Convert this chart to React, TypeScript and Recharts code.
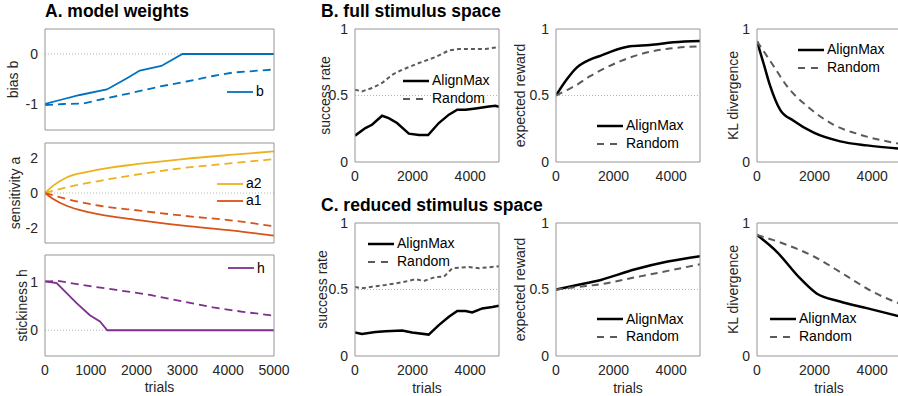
import React from "react";
import { LineChart, Line, XAxis, YAxis, ReferenceLine, Legend } from "recharts";

// ---- A. model weights ----
const trialsA = [0, 1000, 2000, 3000, 4000, 5000];

const biasFitT = [0, 330, 760, 1350, 1780, 2070, 2540, 3000, 5000];
const biasFit = [-1, -0.92, -0.82, -0.71, -0.49, -0.33, -0.24, 0, 0];
const biasRndT = [0, 400, 840, 1270, 1930, 2510, 3090, 3670, 4110, 5000];
const biasRnd = [-1.02, -1.0, -0.99, -0.9, -0.77, -0.65, -0.55, -0.44, -0.37, -0.31];

const sensFitT = [0, 180, 470, 980, 2000, 3020, 4110, 5000];
const a2Fit = [0, 0.42, 0.89, 1.24, 1.65, 1.94, 2.19, 2.38];
const a1Fit = [0, -0.34, -0.73, -1.11, -1.54, -1.87, -2.15, -2.44];
const sensRndT = [0, 470, 1200, 2070, 3020, 4110, 5000];
const a2Rnd = [0, 0.32, 0.7, 1.08, 1.43, 1.71, 1.94];
const a1Rnd = [0, -0.34, -0.73, -1.01, -1.3, -1.58, -1.91];

const hFitT = [0, 255, 690, 980, 1200, 1360, 5000];
const hFit = [1.01, 0.97, 0.56, 0.31, 0.18, 0, 0];
const hRndT = [0, 255, 910, 1560, 2290, 3020, 3670, 4320, 5000];
const hRnd = [1.0, 1.02, 0.92, 0.83, 0.73, 0.59, 0.47, 0.38, 0.3];

// ---- B. full stimulus space ----
const trialsBC = [0, 2000, 4000];

const succBT = [0, 360, 590, 940, 1170, 1460, 1870, 2220, 2540, 2910, 3260, 3550, 3840, 4190, 4650, 4880, 5000];
const succBAlign = [0.198, 0.255, 0.28, 0.348, 0.33, 0.293, 0.213, 0.203, 0.203, 0.293, 0.356, 0.393, 0.393, 0.403, 0.418, 0.423, 0.414];
const succBRndT = [0, 240, 590, 940, 1290, 1640, 2220, 2790, 3260, 3610, 4070, 4530, 5000];
const succBRnd = [0.544, 0.531, 0.556, 0.594, 0.656, 0.694, 0.744, 0.789, 0.839, 0.85, 0.85, 0.85, 0.865];

const rewBT = [0, 370, 720, 1180, 1560, 1910, 2570, 3260, 4070, 5000];
const rewBAlign = [0.5, 0.62, 0.71, 0.77, 0.8, 0.83, 0.87, 0.88, 0.9, 0.91];
const rewBRndT = [0, 370, 720, 1180, 1560, 2260, 2920, 3840, 5000];
const rewBRnd = [0.5, 0.54, 0.58, 0.645, 0.69, 0.76, 0.81, 0.85, 0.87];

const klBT = [0, 230, 460, 810, 1270, 1970, 2890, 3820, 5000];
const klBAlign = [0.907, 0.74, 0.57, 0.39, 0.31, 0.22, 0.155, 0.125, 0.1];
const klBRndT = [0, 580, 1040, 1740, 2660, 3590, 5000];
const klBRnd = [0.907, 0.72, 0.57, 0.42, 0.28, 0.205, 0.135];

// ---- C. reduced stimulus space ----
const succCT = [0, 240, 710, 1060, 1640, 1980, 2560, 2910, 3260, 3550, 3840, 4070, 4420, 4770, 5000];
const succCAlign = [0.177, 0.166, 0.181, 0.187, 0.192, 0.177, 0.161, 0.232, 0.295, 0.338, 0.338, 0.327, 0.358, 0.368, 0.378];
const succCRndT = [0, 240, 590, 1060, 1640, 2100, 2390, 2790, 3090, 3380, 3950, 4300, 5000];
const succCRnd = [0.519, 0.509, 0.521, 0.534, 0.554, 0.577, 0.564, 0.594, 0.597, 0.66, 0.67, 0.66, 0.675];

const rewCT = [0, 780, 1560, 2720, 3880, 5000];
const rewCAlign = [0.5, 0.535, 0.572, 0.65, 0.71, 0.75];
const rewCRnd = [0.5, 0.52, 0.54, 0.59, 0.64, 0.69];

const klCT = [0, 680, 1490, 2070, 2880, 3810, 5000];
const klCAlign = [0.91, 0.785, 0.585, 0.47, 0.41, 0.36, 0.295];
const klCRndT = [0, 1030, 1960, 3120, 4040, 5000];
const klCRnd = [0.91, 0.836, 0.75, 0.6, 0.48, 0.39];

const AX = "#959595";
const TXT = "#262626";
const RND = "#5a5a5a";
const FONT = '"Liberation Sans", Arial, Helvetica, sans-serif';

type Series = {
  name: string;
  t: number[];
  v: number[];
  color: string;
  dashed?: boolean;
  width?: number;
  curve?: "linear" | "monotone";
  legend?: boolean;
};

type PanelProps = {
  x: number;
  y: number;
  w: number;
  h: number;
  yDomain: [number, number];
  yTicks: number[];
  xTicks: number[];
  xLabels?: boolean;
  trials?: boolean;
  trialsOffset?: number;
  yLabel: string;
  yLabelOffset: number;
  refY?: number;
  series: Series[];
  legendX: number;
  legendY: number;
  dash?: string;
  legendDash?: string;
};

const pts = (t: number[], v: number[]) => t.map((x, i) => ({ t: x, v: v[i] }));

function LegendBox({ items, dash }: { items: Series[]; dash: string }) {
  return (
    <div style={{ fontFamily: FONT, fontSize: 14, color: "#000" }}>
      {items.map((s) => (
        <div key={s.name} style={{ display: "flex", alignItems: "center", height: 17.5 }}>
          <svg width={26} height={4} style={{ display: "block" }}>
            <line
              x1={0}
              x2={26}
              y1={2}
              y2={2}
              stroke={s.color}
              strokeWidth={s.width ?? 2}
              strokeDasharray={s.dashed ? dash : undefined}
            />
          </svg>
          <span style={{ marginLeft: 3, lineHeight: "17.5px" }}>{s.name}</span>
        </div>
      ))}
    </div>
  );
}

function Panel(p: PanelProps) {
  const left = p.x - 50;
  const top = p.y - 10;
  const dash = p.dash ?? "7 5";
  const legendItems = p.series.filter((s) => s.legend !== false);
  return (
    <div style={{ position: "absolute", left, top }}>
      <LineChart
        width={p.w + 80}
        height={p.h + 50}
        margin={{ top: 10, right: 30, left: 0, bottom: 0 }}
      >
        <XAxis
          xAxisId="main"
          type="number"
          dataKey="t"
          domain={[0, 5000]}
          ticks={p.xTicks}
          allowDataOverflow
          height={40}
          tickLine={false}
          tickSize={6}
          tickMargin={3}
          axisLine={{ stroke: AX }}
          tick={p.xLabels ? { fill: TXT, fontSize: 14 } : false}
          label={
            p.trials
              ? {
                  value: "trials",
                  position: "insideBottom",
                  offset: p.trialsOffset ?? 3,
                  style: { fill: TXT, fontSize: 14 },
                }
              : undefined
          }
        />
        <XAxis
          xAxisId="bm"
          type="number"
          domain={[0, 5000]}
          ticks={p.xTicks}
          allowDataOverflow
          mirror
          height={1}
          tick={false}
          axisLine={false}
          tickSize={3}
          tickLine={{ stroke: AX }}
        />
        <XAxis
          xAxisId="tm"
          orientation="top"
          type="number"
          domain={[0, 5000]}
          ticks={p.xTicks}
          allowDataOverflow
          mirror
          height={1}
          tick={false}
          axisLine={{ stroke: AX }}
          tickSize={3}
          tickLine={{ stroke: AX }}
        />
        <YAxis
          yAxisId="main"
          type="number"
          domain={p.yDomain}
          ticks={p.yTicks}
          allowDataOverflow
          width={50}
          tickLine={false}
          tickSize={6}
          tickMargin={1}
          axisLine={{ stroke: AX }}
          tick={{ fill: TXT, fontSize: 14 }}
          label={{
            value: p.yLabel,
            angle: -90,
            position: "insideLeft",
            offset: p.yLabelOffset,
            style: { textAnchor: "middle", fill: TXT, fontSize: 14 },
          }}
        />
        <YAxis
          yAxisId="lm"
          type="number"
          domain={p.yDomain}
          ticks={p.yTicks}
          allowDataOverflow
          mirror
          width={1}
          tick={false}
          axisLine={false}
          tickSize={3}
          tickLine={{ stroke: AX }}
        />
        <YAxis
          yAxisId="rm"
          orientation="right"
          type="number"
          domain={p.yDomain}
          ticks={p.yTicks}
          allowDataOverflow
          mirror
          width={1}
          tick={false}
          axisLine={{ stroke: AX }}
          tickSize={3}
          tickLine={{ stroke: AX }}
        />
        {p.refY !== undefined && (
          <ReferenceLine
            xAxisId="main"
            yAxisId="main"
            y={p.refY}
            stroke="#b5b5b5"
            strokeDasharray="1 2"
            strokeWidth={1}
          />
        )}
        {p.series.map((s) => (
          <Line
            key={s.name + (s.dashed ? "-d" : "-s")}
            xAxisId="main"
            yAxisId="main"
            data={pts(s.t, s.v)}
            dataKey="v"
            name={s.name}
            type={s.curve ?? "monotone"}
            stroke={s.color}
            strokeWidth={s.width ?? 2}
            strokeDasharray={s.dashed ? dash : undefined}
            dot={false}
            activeDot={false}
            legendType={s.legend === false ? "none" : "line"}
            isAnimationActive={false}
          />
        ))}
        <Legend
          layout="vertical"
          align="center"
          verticalAlign="middle"
          wrapperStyle={{
            left: p.legendX - left,
            top: p.legendY - 8.75 - top,
            width: "auto",
            height: "auto",
          }}
          content={() => <LegendBox items={legendItems} dash={p.legendDash ?? "7 6"} />}
        />
      </LineChart>
    </div>
  );
}

const BLUE = "#0072BD";
const YEL = "#EDB120";
const ORG = "#D95319";
const PUR = "#7E2F8E";

const titleStyle: React.CSSProperties = {
  position: "absolute",
  fontFamily: FONT,
  fontWeight: "bold",
  fontSize: 17.5,
  color: "#000",
  lineHeight: "14px",
  whiteSpace: "nowrap",
};

export default function App() {
  const cx = [355, 556, 757];
  const bY = 29;
  const cY = 223;
  const boxW = 144;
  const boxH = 133;
  return (
    <div
      style={{
        position: "absolute",
        left: 0,
        top: 0,
        width: 898,
        height: 396,
        overflow: "hidden",
        background: "#fff",
        fontFamily: FONT,
      }}
    >
      <div style={{ ...titleStyle, left: 45, top: 4 }}>A. model weights</div>
      <div style={{ ...titleStyle, left: 321, top: 4 }}>B. full stimulus space</div>
      <div style={{ ...titleStyle, left: 321, top: 198 }}>C. reduced stimulus space</div>

      {/* A */}
      <Panel
        x={45} y={29} w={229} h={101}
        yDomain={[-1.52, 0.5]} yTicks={[-1, 0]} xTicks={trialsA}
        yLabel="bias b" yLabelOffset={18} refY={0}
        legendX={227} legendY={92} dash="8 5"
        series={[
          { name: "b", t: biasFitT, v: biasFit, color: BLUE, curve: "linear", width: 1.8 },
          { name: "b", t: biasRndT, v: biasRnd, color: BLUE, dashed: true, curve: "linear", width: 1.8, legend: false },
        ]}
      />
      <Panel
        x={45} y={143} w={229} h={100}
        yDomain={[-2.86, 2.86]} yTicks={[-2, 0, 2]} xTicks={trialsA}
        yLabel="sensitivity a" yLabelOffset={20} refY={0}
        legendX={217} legendY={183.5} dash="8 5"
        series={[
          { name: "a2", t: sensFitT, v: a2Fit, color: YEL, width: 1.8 },
          { name: "a1", t: sensFitT, v: a1Fit, color: ORG, width: 1.8 },
          { name: "a2", t: sensRndT, v: a2Rnd, color: YEL, dashed: true, width: 1.8, legend: false },
          { name: "a1", t: sensRndT, v: a1Rnd, color: ORG, dashed: true, width: 1.8, legend: false },
        ]}
      />
      <Panel
        x={45} y={255} w={229} h={101}
        yDomain={[-0.53, 1.55]} yTicks={[0, 1]} xTicks={trialsA}
        xLabels trials trialsOffset={4}
        yLabel="stickiness h" yLabelOffset={27} refY={0}
        legendX={228} legendY={268.3} dash="8 5"
        series={[
          { name: "h", t: hFitT, v: hFit, color: PUR, curve: "linear", width: 1.8 },
          { name: "h", t: hRndT, v: hRnd, color: PUR, dashed: true, curve: "linear", width: 1.8, legend: false },
        ]}
      />

      {/* B */}
      <Panel
        x={cx[0]} y={bY} w={boxW} h={boxH}
        yDomain={[0, 1]} yTicks={[0, 0.5, 1]} xTicks={trialsBC} xLabels
        yLabel="success rate" yLabelOffset={20} refY={0.5}
        legendX={403} legendY={81} dash="4 3"
        series={[
          { name: "AlignMax", t: succBT, v: succBAlign, color: "#000", curve: "linear", width: 2.5 },
          { name: "Random", t: succBRndT, v: succBRnd, color: RND, dashed: true, curve: "linear", width: 2 },
        ]}
      />
      <Panel
        x={cx[1]} y={bY} w={boxW} h={boxH}
        yDomain={[0, 1]} yTicks={[0, 0.5, 1]} xTicks={trialsBC} xLabels
        yLabel="expected reward" yLabelOffset={14} refY={0.5}
        legendX={597} legendY={126}
        series={[
          { name: "AlignMax", t: rewBT, v: rewBAlign, color: "#000", width: 2.5 },
          { name: "Random", t: rewBRndT, v: rewBRnd, color: RND, dashed: true, width: 2 },
        ]}
      />
      <Panel
        x={cx[2]} y={bY} w={boxW} h={boxH}
        yDomain={[0, 1]} yTicks={[0, 1]} xTicks={trialsBC} xLabels
        yLabel="KL divergence" yLabelOffset={26}
        legendX={798} legendY={50}
        series={[
          { name: "AlignMax", t: klBT, v: klBAlign, color: "#000", width: 2.5 },
          { name: "Random", t: klBRndT, v: klBRnd, color: RND, dashed: true, width: 2 },
        ]}
      />

      {/* C */}
      <Panel
        x={cx[0]} y={cY} w={boxW} h={boxH}
        yDomain={[0, 1]} yTicks={[0, 0.5, 1]} xTicks={trialsBC} xLabels trials
        yLabel="success rate" yLabelOffset={17} refY={0.5}
        legendX={368} legendY={244} dash="4 3"
        series={[
          { name: "AlignMax", t: succCT, v: succCAlign, color: "#000", curve: "linear", width: 2.5 },
          { name: "Random", t: succCRndT, v: succCRnd, color: RND, dashed: true, curve: "linear", width: 2 },
        ]}
      />
      <Panel
        x={cx[1]} y={cY} w={boxW} h={boxH}
        yDomain={[0, 1]} yTicks={[0, 0.5, 1]} xTicks={trialsBC} xLabels trials
        yLabel="expected reward" yLabelOffset={14} refY={0.5}
        legendX={597} legendY={319.3}
        series={[
          { name: "AlignMax", t: rewCT, v: rewCAlign, color: "#000", width: 2.5 },
          { name: "Random", t: rewCT, v: rewCRnd, color: RND, dashed: true, width: 2 },
        ]}
      />
      <Panel
        x={cx[2]} y={cY} w={boxW} h={boxH}
        yDomain={[0, 1]} yTicks={[0, 1]} xTicks={trialsBC} xLabels trials
        yLabel="KL divergence" yLabelOffset={26}
        legendX={770} legendY={319}
        series={[
          { name: "AlignMax", t: klCT, v: klCAlign, color: "#000", width: 2.5 },
          { name: "Random", t: klCRndT, v: klCRnd, color: RND, dashed: true, width: 2 },
        ]}
      />
    </div>
  );
}
